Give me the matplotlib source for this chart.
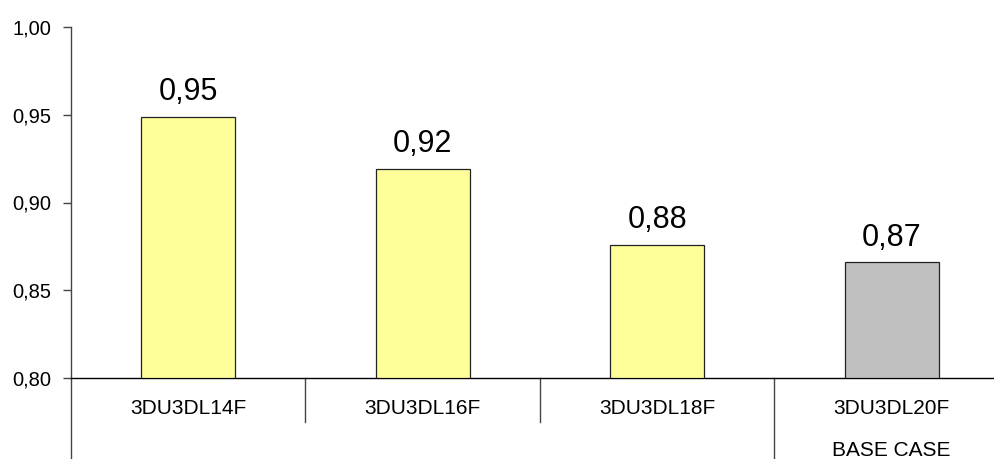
import matplotlib
matplotlib.use("Agg")
import matplotlib.pyplot as plt
import matplotlib.transforms as mtransforms

categories = ["3DU3DL14F", "3DU3DL16F", "3DU3DL18F", "3DU3DL20F"]
group_labels = ["", "", "", "BASE CASE"]
values = [0.949, 0.919, 0.876, 0.866]
colors = ["#FFFF99", "#FFFF99", "#FFFF99", "#C0C0C0"]
yticks = [0.80, 0.85, 0.90, 0.95, 1.00]

plt.rcParams['font.family'] = ['Liberation Sans', 'DejaVu Sans']

W, H = 995, 459
fig = plt.figure(figsize=(W / 100, H / 100), dpi=100)
x0, x1 = 71, 1009
ytop, ybot = 27, 378
ax = fig.add_axes([x0 / W, (H - ybot) / H, (x1 - x0) / W, (ybot - ytop) / H])

xs = [i + 0.5 for i in range(len(categories))]
ax.bar(xs, [v - 0.80 for v in values], bottom=0.80, width=0.4,
       color=colors, edgecolor="#222222", linewidth=0.9, zorder=3)
ax.set_xlim(0, len(categories))
ax.set_ylim(0.80, 1.00)

for s in ["top", "right"]:
    ax.spines[s].set_visible(False)
ax.spines["left"].set_color("#444444")
ax.spines["bottom"].set_color("#000000")
ax.spines["left"].set_linewidth(1.0)
ax.spines["bottom"].set_linewidth(1.0)

ax.set_xticks([])
ax.set_yticks(yticks)
ax.set_yticklabels([f"{t:.2f}".replace(".", ",") for t in yticks], fontsize=14.5)
ax.tick_params(axis="y", direction="out", length=6, width=1.0, color="#444444", pad=8)

ax_h = ybot - ytop
bottom_ax = -(H - ybot) / ax_h - 0.01
# extended left axis line
ax.plot([0, 0], [0, bottom_ax], transform=ax.transAxes, color="#444444",
        lw=1.0, clip_on=False)
trans = mtransforms.blended_transform_factory(ax.transData, ax.transAxes)
sep_short = -44 / ax_h
for i in range(1, len(categories)):
    low = bottom_ax if group_labels[i] != group_labels[i - 1] else sep_short
    ax.plot([i, i], [0, low], transform=trans, color="#444444", lw=1.0, clip_on=False)

for x, c, g in zip(xs, categories, group_labels):
    ax.text(x, -31 / ax_h, c, transform=trans, ha="center", va="center", fontsize=15)
    if g:
        ax.text(x, -72 / ax_h, g, transform=trans, ha="center", va="center", fontsize=15)

for x, v in zip(xs, values):
    ax.annotate(f"{v:.2f}".replace(".", ","), (x, v), xytext=(0, 12),
                textcoords="offset points", ha="center", va="baseline", fontsize=22)

fig.savefig("out.png", dpi=100)
